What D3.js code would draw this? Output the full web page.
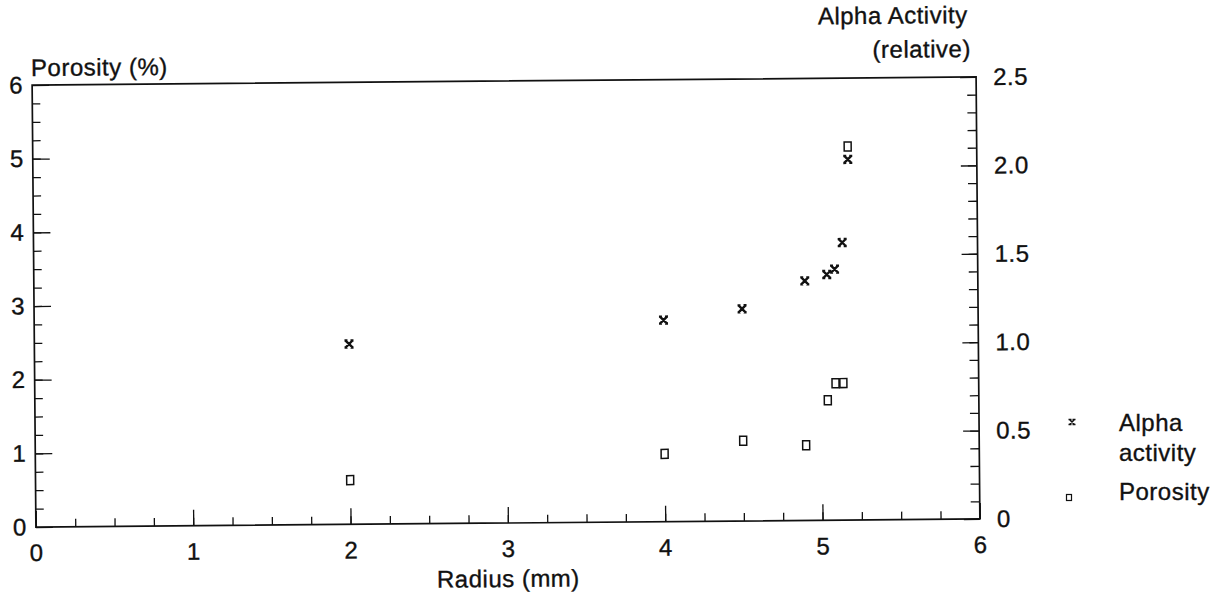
<!DOCTYPE html>
<html>
<head>
<meta charset="utf-8">
<script src="https://cdn.jsdelivr.net/npm/d3@7"></script>
<style>
  body { margin: 0; background: #fff; }
  svg { display: block; font-family: "Liberation Sans", Arial, sans-serif; }
  text { letter-spacing: 0.5px; stroke: #111; stroke-width: 0.35px; }
</style>
</head>
<body>
<div id="svg-container"></div>
<script>
// data
const radius = [2.0, 4.0, 4.5, 4.9, 5.04, 5.09, 5.14, 5.18];
const alpha = [1.02, 1.14, 1.2, 1.355, 1.39, 1.42, 1.57, 2.04];
const porosity = [0.6, 0.92, 1.09, 1.02, 1.63, 1.86, 1.86, 5.07];
const xTicks = [0, 1, 2, 3, 4, 5, 6];
const leftTicks = [0, 1, 2, 3, 4, 5, 6];
const rightTicks = [0, 0.5, 1.0, 1.5, 2.0, 2.5];
const legendItems = ["Alpha activity", "Porosity"];

const width = 1222, height = 603;
const margin = { top: 81, right: 244, bottom: 80, left: 34 };

const svg = d3.select("#svg-container").append("svg")
  .attr("width", width).attr("height", height);

// the scan is tilted a little
const g = svg.append("g").attr("transform", "rotate(-0.49, 506, 302)");

// scales
const x = d3.scaleLinear().domain([0, 6]).range([margin.left, width - margin.right]);
const yL = d3.scaleLinear().domain([0, 6]).range([height - margin.bottom, margin.top]);
const yR = d3.scaleLinear().domain([0, 2.5]).range([height - margin.bottom, margin.top]);

const x0 = x(0), x1 = x(6), y0 = yL(0), y1 = yL(6);

// minor ticks
g.append("g").attr("transform", `translate(0,${y0})`)
  .call(d3.axisBottom(x).tickValues(d3.range(0.25, 6, 0.25)).tickSizeInner(-8).tickSizeOuter(0).tickFormat(""))
  .call(a => a.select(".domain").remove());
g.append("g").attr("transform", `translate(${x0},0)`)
  .call(d3.axisLeft(yL).tickValues(d3.range(0.25, 6, 0.25)).tickSizeInner(-8).tickSizeOuter(0).tickFormat(""))
  .call(a => a.select(".domain").remove());
g.append("g").attr("transform", `translate(${x1},0)`)
  .call(d3.axisRight(yR).tickValues(d3.range(1, 25).map(i => i / 10)).tickSizeInner(-9).tickSizeOuter(0).tickFormat(""))
  .call(a => a.select(".domain").remove());

// major ticks + labels
const styleLabels = a => a.selectAll("text")
  .attr("font-size", 24).attr("font-family", null).attr("fill", "#111");

g.append("g").attr("transform", `translate(0,${y0})`)
  .call(d3.axisBottom(x).tickValues(xTicks).tickSizeInner(-16).tickSizeOuter(0).tickPadding(17).tickFormat(d3.format("d")))
  .call(a => a.select(".domain").remove())
  .call(styleLabels);
g.append("g").attr("transform", `translate(${x0},0)`)
  .call(d3.axisLeft(yL).tickValues(leftTicks).tickSizeInner(-17).tickSizeOuter(0).tickPadding(9).tickFormat(d3.format("d")))
  .call(a => a.select(".domain").remove())
  .call(styleLabels);
g.append("g").attr("transform", `translate(${x1},0)`)
  .call(d3.axisRight(yR).tickValues(rightTicks).tickSizeInner(-16).tickSizeOuter(0).tickPadding(17)
    .tickFormat(d => d === 0 ? "0" : d3.format(".1f")(d)))
  .call(a => a.select(".domain").remove())
  .call(styleLabels);

g.selectAll(".tick line").attr("stroke", "#111").attr("stroke-width", 1.3);

// frame
g.append("rect")
  .attr("x", x0).attr("y", y1).attr("width", x1 - x0).attr("height", y0 - y1)
  .attr("fill", "none").attr("stroke", "#111").attr("stroke-width", 1.7);

// titles
const title = (tx, ty, anchor, s) => g.append("text")
  .attr("x", tx).attr("y", ty).attr("font-size", 24).attr("text-anchor", anchor)
  .attr("fill", "#111").text(s);
title(33, 72, "start", "Porosity (%)");
title(970, 27, "end", "Alpha Activity");
title(973, 61, "end", "(relative)");
title((x0 + x1) / 2, 587, "middle", "Radius (mm)");

// markers
const crossPath = r => `M${-r},${-r}L${r},${r}M${r},${-r}L${-r},${r}` +
  `M${-r - 1},${-r}h3M${r - 2},${-r}h3M${-r - 1},${r}h3M${r - 2},${r}h3`;

const points = radius.map((r, i) => ({ r, a: alpha[i], p: porosity[i] }));

g.append("g").selectAll("path")
  .data(points)
  .join("path")
  .attr("transform", d => `translate(${x(d.r)},${yR(d.a)})`)
  .attr("d", crossPath(3.5))
  .attr("fill", "none").attr("stroke", "#111").attr("stroke-width", 2.4);

g.append("g").selectAll("rect")
  .data(points)
  .join("rect")
  .attr("x", d => x(d.r) - 3.5).attr("y", d => yL(d.p) - 4.5)
  .attr("width", 7).attr("height", 9)
  .attr("fill", "none").attr("stroke", "#111").attr("stroke-width", 1.5);

// legend
const lg = svg.append("g").attr("font-size", 24).attr("fill", "#111");
lg.append("path").attr("transform", "translate(1072,422)").attr("d", crossPath(2.5))
  .attr("fill", "none").attr("stroke", "#111").attr("stroke-width", 1.5);
lg.append("text").attr("x", 1119).attr("y", 431).text(legendItems[0].split(" ")[0]);
lg.append("text").attr("x", 1119).attr("y", 461).text(legendItems[0].split(" ")[1]);
lg.append("rect").attr("x", 1066.5).attr("y", 494.5).attr("width", 5).attr("height", 6)
  .attr("fill", "none").attr("stroke", "#111").attr("stroke-width", 1.2);
lg.append("text").attr("x", 1119).attr("y", 500).text(legendItems[1]);
</script>
</body>
</html>
